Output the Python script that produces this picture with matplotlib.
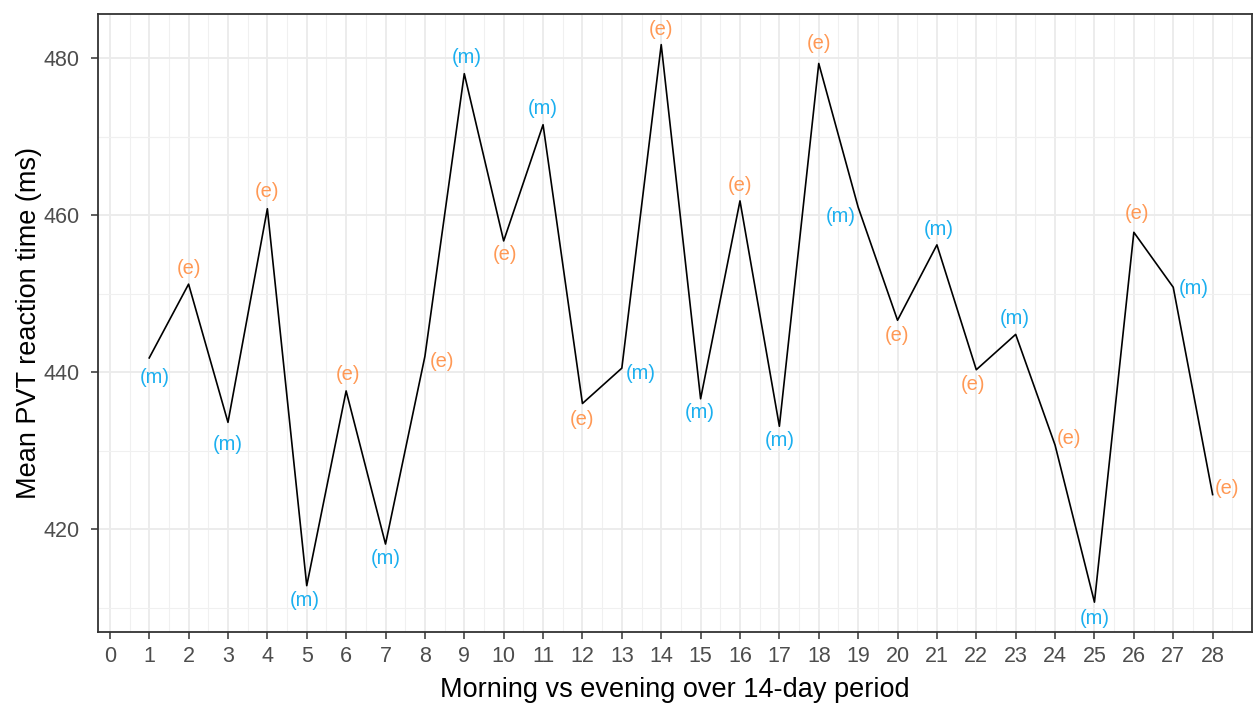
import matplotlib
matplotlib.use("Agg")
import matplotlib.pyplot as plt
import numpy as np

# ---- data ----
sessions = list(range(1, 29))
mean_rt = [441.8, 451.2, 433.6, 460.8, 412.8, 437.6, 418.1, 442.0, 478.0, 456.7,
           471.5, 436.0, 440.5, 481.7, 436.6, 461.8, 433.1, 479.3, 461.0, 446.6,
           456.2, 440.3, 444.8, 430.7, 410.7, 457.8, 450.8, 424.4]
time_of_day = ["m", "e"] * 14
x_ticks = list(range(0, 29))
y_ticks = [420, 440, 460, 480]

# label placement offsets (pixels, +dy = down)
label_dx = [6, 0, 0, 0, -2, 2, 0, 17, 2, 1, 0, 0, 19, 0, -1, 0, 0, 0, -17, -1,
            2, -3, -1, 14, 0, 3, 21, 14]
label_dy = [20, -16, 22, -17, 15, -16, 14, 5, -16, 14, -16, 16, 5, -15, 14, -15,
            14, -20, 9, 15, -15, 15, -16, -7, 16, -19, 1, -6]

colors = {"m": "#1BAFEF", "e": "#FF9955"}
font = ["Liberation Sans", "DejaVu Sans"]
plt.rcParams['font.family'] = font

fig = plt.figure(figsize=(12.56, 7.04), dpi=100)
ax = fig.add_axes([98 / 1256, 1 - 632 / 704, (1252 - 98) / 1256, (632 - 14) / 704])

ax.set_xlim(-0.3, 29.0)
ax.set_ylim(406.9, 485.6)

# grid
ax.set_xticks(x_ticks)
ax.set_xticks([v + 0.5 for v in x_ticks], minor=True)
ax.set_yticks(y_ticks)
ax.set_yticks([v - 10 for v in y_ticks] + [470], minor=True)
ax.grid(which="major", color="#EBEBEB", linewidth=1.3, zorder=0)
ax.grid(which="minor", color="#F0F0F0", linewidth=0.8, zorder=0)
ax.set_axisbelow(True)
ax.tick_params(which="minor", length=0)
ax.tick_params(which="major", length=5, width=1.1, color="#333333",
               labelsize=15.5, labelcolor="#4D4D4D")
ax.tick_params(axis="x", which="major", pad=5)
ax.tick_params(axis="y", which="major", pad=8)

ax.plot(sessions, mean_rt, color="black", linewidth=1.2, zorder=3)

for x, y, t, dx, dy in zip(sessions, mean_rt, time_of_day, label_dx, label_dy):
    ax.annotate(f"({t})", (x, y), xytext=(dx, -dy), textcoords="offset pixels",
                ha="center", va="center", color=colors[t], fontsize=14.5, zorder=4)

for s in ax.spines.values():
    s.set_color("#333333")
    s.set_linewidth(1.3)

ax.set_xlabel("Morning vs evening over 14-day period", fontsize=19.5, color="black", labelpad=7)
ax.set_ylabel("Mean PVT reaction time (ms)", fontsize=19.5, color="black", labelpad=1)

fig.savefig("out.png", dpi=100)
